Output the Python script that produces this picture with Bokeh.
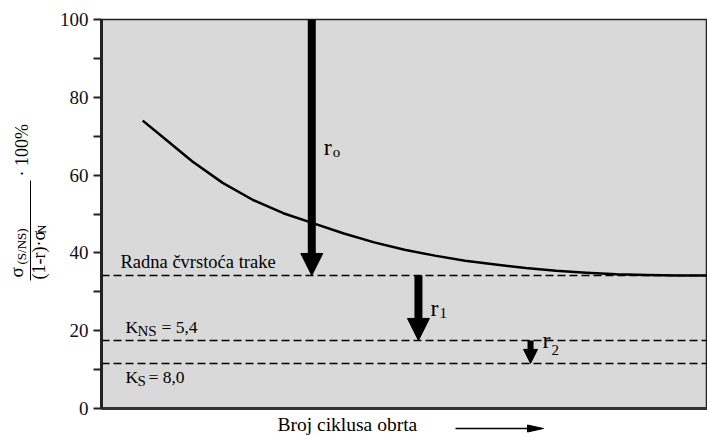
import math
from bokeh.plotting import figure
from bokeh.models import Range1d, Span, Arrow, NormalHead, Label, FixedTicker
from bokeh.core.properties import value
from bokeh.embed import file_html
from bokeh.resources import INLINE

# ---- data ----
curve_x = [6.8, 10, 15, 20, 25, 30, 35, 40, 45, 50, 55, 60, 65, 70, 75, 80, 85, 90, 95, 100]
curve_y = [74.0, 69.9, 63.5, 58.0, 53.6, 50.2, 47.6, 45.0, 42.7, 40.8, 39.3, 38.0, 37.0, 36.1,
           35.4, 34.9, 34.5, 34.3, 34.2, 34.2]
level_values = [34.2, 17.5, 11.6]
arrow_x = [34.7, 52.3, 70.8]
arrow_top = [100.0, 34.2, 17.5]
arrow_bottom = [34.2, 17.5, 11.6]
arrow_subs = ["o", "1", "2"]
y_major = [0, 20, 40, 60, 80, 100]
y_minor = [10, 30, 50, 70, 90]

FONT = "Liberation Serif"
W, H = 707, 436
FL, FT, FB = 101, 19, 28
FW, FH = W - FL, H - FT - FB
SHIFT = 6  # text baseline compensation, px


def X(px):  # page pixel -> data x
    return (px - FL) / FW * 100.0


def Y(py):  # page pixel -> data y
    return (FT + FH - py) / FH * 100.0


def TY(py):  # baseline position for horizontal text
    return Y(py - SHIFT)


def TX(px):  # baseline position for vertical text
    return X(px - SHIFT)


p = figure(width=W, height=H, output_backend="svg", toolbar_location=None,
           x_range=Range1d(0, 100), y_range=Range1d(0, 100),
           min_border_left=FL, min_border_right=0, min_border_top=FT,
           min_border_bottom=FB)
p.background_fill_color = "#d9d9d9"
p.border_fill_color = "white"
p.grid.visible = False
p.outline_line_color = "#222222"
p.outline_line_width = 1.5

# y axis
p.yaxis.ticker = FixedTicker(ticks=y_major, minor_ticks=y_minor)
p.yaxis.axis_line_width = 3
p.yaxis.axis_line_color = "#222222"
p.yaxis.major_tick_line_width = 2
p.yaxis.minor_tick_line_width = 2
p.yaxis.major_tick_line_color = "#222222"
p.yaxis.minor_tick_line_color = "#222222"
p.yaxis.major_tick_out = 8
p.yaxis.major_tick_in = 0
p.yaxis.minor_tick_out = 8
p.yaxis.minor_tick_in = 0
p.yaxis.major_label_text_font = FONT
p.yaxis.major_label_text_font_size = "19px"
p.yaxis.major_label_text_color = "#111111"
p.yaxis.major_label_standoff = 5

# x axis: only the line
p.xaxis.ticker = FixedTicker(ticks=[])
p.xaxis.axis_line_width = 3
p.xaxis.axis_line_color = "#333333"
p.xaxis.major_tick_line_color = None
p.xaxis.minor_tick_line_color = None
p.xaxis.major_label_text_color = None

# dashed levels
for lv in level_values:
    p.add_layout(Span(location=lv, dimension="width", line_color="black",
                      line_width=1.5, line_dash="8 4"))

# curve
p.line(curve_x, curve_y, line_color="black", line_width=2.5, line_join="round")

# arrows
shaft_w = [8, 8, 6]
head_sz = [22, 22, 14]
for xa, y0, y1, lw, hs in zip(arrow_x, arrow_top, arrow_bottom, shaft_w, head_sz):
    p.add_layout(Arrow(end=NormalHead(size=hs, fill_color="black", line_color="black"),
                       x_start=xa, y_start=y0, x_end=xa, y_end=y1,
                       line_color="black", line_width=lw))


def lab(x, y, text, size, x_offset=0):
    p.add_layout(Label(x=x, y=y, text=text, text_font=FONT, text_font_size=size,
                       text_color="black", text_baseline="alphabetic",
                       text_align="left", x_offset=x_offset))


def outside_text(x, y, text, size, angle=0.0):
    # glyph at "overlay" level so that it is not clipped to the frame
    p.text(x=[x], y=[y], text=[text], angle=angle, text_font=value(FONT),
           text_font_size=value(size), text_color="black",
           text_baseline="alphabetic", text_align="left", level="overlay")


# r labels
r_base_y = [TY(152), TY(313), TY(345)]
sub_base_y = [TY(157), TY(318), TY(355)]
for xa, ry, sy, s in zip(arrow_x, r_base_y, sub_base_y, arrow_subs):
    lab(xa, ry, "r", "24px", x_offset=12)
    lab(xa, sy, s, "15px", x_offset=21)

# level labels
lab(X(120), TY(267), "Radna čvrstoća trake", "18.5px")
lab(X(125), TY(332), "K", "17.5px")
lab(X(137), TY(336), "NS", "15px")
lab(X(161), TY(332), "= 5,4", "17.5px")
lab(X(125), TY(382), "K", "17.5px")
lab(X(137), TY(386), "S", "15px")
lab(X(148), TY(382), "= 8,0", "17.5px")

# x label with arrow
outside_text(X(277), TY(430), "Broj ciklusa obrta", "19.5px")
p.segment(x0=[X(455)], y0=[Y(428)], x1=[X(530)], y1=[Y(428)], line_color="black",
          line_width=1.5, level="overlay")
p.patch(x=[X(527), X(543), X(527)], y=[Y(424.5), Y(428), Y(431.5)], color="black",
        level="overlay")

# y label: sigma_(S/NS) / ((1-r)·sigma_N) · 100%
A = math.pi / 2
outside_text(TX(22), Y(277), "σ", "19px", angle=A)
outside_text(TX(27), Y(264), "(S/NS)", "13px", angle=A)
p.segment(x0=[X(30)], y0=[Y(280)], x1=[X(30)], y1=[Y(180)], line_color="black",
          line_width=1, level="overlay")
outside_text(TX(44), Y(279), "(1-r)·σ", "18px", angle=A)
outside_text(TX(47), Y(233), "N", "12px", angle=A)
outside_text(TX(27), Y(176), "· 100%", "18px", angle=A)

open("out.html", "w").write(file_html(p, INLINE))
